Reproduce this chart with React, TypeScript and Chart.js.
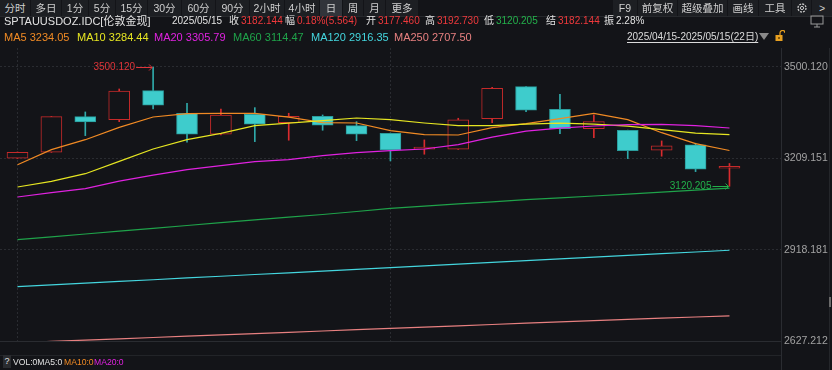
import React, { useEffect, useRef } from "react";
import { Chart, registerables } from "chart.js";
Chart.register(...registerables);

// ---- data ----
const dates = ["04/15","04/16","04/17","04/21","04/22","04/23","04/24","04/25","04/28","04/29","04/30","05/01","05/02","05/05","05/06","05/07","05/08","05/09","05/12","05/13","05/14","05/15"];
const opens = [3209.5,3228.6,3341.9,3332.4,3424.7,3352.7,3285.9,3349.5,3322.8,3343.2,3313.3,3289.1,3238.2,3238.2,3335.6,3437.4,3365.5,3303.7,3298.6,3235.0,3251.8,3177.46];
const closes = [3228.6,3341.9,3325.0,3423.7,3378.2,3285.9,3347.3,3317.7,3343.2,3314.6,3285.9,3235.9,3240.1,3331.4,3432.3,3362.3,3303.7,3326.0,3233.7,3248.7,3174.5,3182.144];
const highs = [3229.5,3342.5,3356.9,3430.1,3500.12,3384.6,3366.4,3370.6,3352.7,3347.3,3326.0,3289.5,3267.8,3336.8,3435.5,3437.8,3413.2,3347.3,3299.0,3264.6,3257.2,3192.73];
const lows = [3208.5,3228.0,3281.5,3326.0,3366.4,3260.4,3284.0,3262.3,3266.8,3298.6,3265.5,3200.9,3222.2,3237.5,3322.8,3357.8,3287.8,3275.1,3208.2,3215.9,3166.8,3120.205];
const ma5 = [3188.9,3236.7,3268.5,3307.7,3340.8,3351.3,3352.3,3352.3,3340.2,3322.7,3321.7,3297.2,3284.4,3283.5,3306.7,3319.5,3335.4,3352.3,3332.2,3290.8,3255.8,3234.05];
const ma10 = [3117.8,3135.7,3160.2,3199.4,3238.9,3268.5,3288.6,3313.1,3321.1,3329.0,3337.6,3332.2,3321.7,3313.1,3313.1,3317.9,3321.1,3317.9,3311.5,3300.4,3289.2,3284.44];
const ma20 = [3086.0,3099.7,3112.4,3136.3,3155.4,3172.9,3185.7,3198.4,3204.8,3217.5,3227.1,3233.5,3238.9,3252.6,3276.5,3295.6,3305.2,3312.2,3316.3,3317.3,3313.1,3305.79];
const ma60 = [2949.9,2959.2,2968.1,2977.3,2986.3,2995.2,3004.1,3013.0,3021.6,3030.2,3039.8,3049.6,3057.0,3064.0,3070.7,3077.4,3083.4,3089.2,3094.9,3101.3,3108.0,3114.47];
const ma120 = [2800.2,2805.8,2811.3,2816.9,2822.4,2828.0,2833.5,2839.0,2844.5,2850.0,2855.4,2860.7,2866.3,2871.9,2877.5,2883.1,2888.7,2894.3,2899.8,2905.3,2910.8,2916.35];
const ma250 = [2621.8,2625.9,2630.0,2634.2,2638.3,2642.5,2646.6,2650.8,2655.0,2659.1,2663.3,2667.4,2671.5,2675.7,2679.8,2683.9,2688.0,2692.1,2696.0,2699.8,2703.7,2707.50];
const yTicks = [2627.212, 2918.181, 3209.151, 3500.12];
const xGridAt = [0, 11];

const maLegend = [
  { t: "MA5 3234.05", c: "#f08a24", x: 4 },
  { t: "MA10 3284.44", c: "#e6e622", x: 77 },
  { t: "MA20 3305.79", c: "#e022e0", x: 154 },
  { t: "MA60 3114.47", c: "#1fa34a", x: 233 },
  { t: "MA120 2916.35", c: "#44d6de", x: 311 },
  { t: "MA250 2707.50", c: "#e88080", x: 394 },
];

const BG = "#131418";
const RED = "#c62a2a";
const RED_W = "#d92b2e";
const CYAN = "#3ecccc";
const CYAN_B = "#2a9c9c";
const GRID = "#2a2c31";
const FONT = '"Liberation Sans", Arial, "Noto Sans CJK SC", sans-serif';

const leftBtns: [string, number, number][] = [
  ["分时", 0, 30], ["多日", 31, 61], ["1分", 62, 88], ["5分", 89, 115], ["15分", 116, 147],
  ["30分", 148, 181], ["60分", 182, 215], ["90分", 216, 249], ["2小时", 250, 284], ["4小时", 285, 319],
  ["日", 320, 342], ["周", 343, 363], ["月", 364, 385], ["更多", 386, 418],
];
const rightBtns: [string, number, number][] = [
  ["F9", 613, 637], ["前复权", 638, 677], ["超级叠加", 678, 727], ["画线", 728, 758], ["工具", 759, 791], ["", 792, 811], [">", 812, 832],
];

const T = (p: { x: number; y: number; c?: string; s?: number; children: React.ReactNode; st?: React.CSSProperties }) => (
  <div style={{ position: "absolute", left: p.x, top: p.y - (p.s || 11) / 2, fontSize: p.s || 11, lineHeight: 1, color: p.c || "#e2e2e2", whiteSpace: "nowrap", fontFamily: FONT, ...(p.st || {}) }}>{p.children}</div>
);

const markers = {
  id: "hlMarkers",
  afterDatasetsDraw(chart: any) {
    const { ctx, scales } = chart;
    let hi = 0, lo = 0;
    highs.forEach((v, i) => { if (v > highs[hi]) hi = i; });
    lows.forEach((v, i) => { if (v < lows[lo]) lo = i; });
    const draw = (i: number, v: number, color: string) => {
      const xc = scales.x.getPixelForValue(i);
      const y = Math.round(scales.y.getPixelForValue(v)) + 0.5;
      ctx.save();
      ctx.strokeStyle = color; ctx.fillStyle = color; ctx.lineWidth = 1;
      ctx.font = `10px ${FONT}`; ctx.textAlign = "right"; ctx.textBaseline = "middle";
      ctx.fillText(v.toFixed(3), xc - 18, y);
      ctx.beginPath(); ctx.moveTo(xc - 17, y); ctx.lineTo(xc - 1, y);
      ctx.moveTo(xc - 4, y - 3); ctx.lineTo(xc - 1, y); ctx.lineTo(xc - 4, y + 3); ctx.stroke();
      ctx.restore();
    };
    draw(hi, highs[hi], "#e0353a");
    draw(lo, lows[lo], "#22b04a");
  },
};

export default function App() {
  const ref = useRef<HTMLCanvasElement>(null);
  useEffect(() => {
    document.body.style.margin = "0";
    const up = opens.map((o, i) => closes[i] >= o);
    const line = (label: string, data: number[], color: string) => ({
      type: "line" as const, label, data: data.map((v, i) => ({ x: i, y: v })),
      borderColor: color, borderWidth: 1.2, pointRadius: 0, tension: 0, order: 0,
    });
    const chart = new Chart(ref.current!, {
      type: "bar",
      data: {
        datasets: [
          line("MA250", ma250, "#e88080"),
          line("MA120", ma120, "#44d6de"),
          line("MA60", ma60, "#1fa34a"),
          line("MA20", ma20, "#e022e0"),
          line("MA10", ma10, "#e6e622"),
          line("MA5", ma5, "#f08a24"),
          {
            type: "bar", label: "body",
            data: dates.map((d, i) => ({ x: i, y: [opens[i], closes[i]] })) as any,
            backgroundColor: up.map((u) => (u ? BG : CYAN)),
            borderColor: up.map((u) => (u ? RED : CYAN_B)),
            borderWidth: 1, borderSkipped: false, barThickness: 21, grouped: false, order: 1, minBarLength: 2,
          } as any,
          {
            type: "bar", label: "wick",
            data: dates.map((d, i) => ({ x: i, y: [lows[i], highs[i]] })) as any,
            backgroundColor: up.map((u) => (u ? RED_W : "#2fa9a9")),
            borderWidth: 0, barThickness: 1, grouped: false, order: 2,
          } as any,
        ],
      },
      options: {
        animation: false, responsive: false, maintainAspectRatio: false, devicePixelRatio: 1,
        layout: { padding: { top: 48, bottom: 29, left: 0, right: 0 } },
        plugins: { legend: { display: false }, tooltip: { enabled: false } },
        scales: {
          x: {
            type: "linear", min: -0.516, max: 22.52, offset: false,
            afterBuildTicks: (s: any) => { s.ticks = xGridAt.map((v) => ({ value: v })); },
            afterFit: (s: any) => { s.height = 0; },
            ticks: { display: false },
            grid: { color: GRID, drawTicks: false, lineWidth: 1, offset: false },
            border: { display: false, dash: [2, 2] },
          },
          y: {
            type: "linear", position: "right", min: 2627.212, max: 3560.6, offset: false,
            afterBuildTicks: (s: any) => { s.ticks = yTicks.map((v) => ({ value: v })); },
            afterFit: (s: any) => { s.width = 51; },
            ticks: { color: "#a3a3a3", font: { size: 10.5, family: FONT }, padding: 3, callback: (v: any) => Number(v).toFixed(3), autoSkip: false },
            grid: { color: GRID, drawTicks: false, lineWidth: 1 },
            border: { display: false, dash: [2, 2] },
          },
        } as any,
      },
      plugins: [markers],
    } as any);
    return () => chart.destroy();
  }, []);

  const btn = (b: [string, number, number], sel: boolean) => (
    <div key={b[0] + b[1]} style={{ position: "absolute", left: b[1], top: 0, width: b[2] - b[1], height: 16, background: sel ? "#31343a" : "#1d1f23", color: "#cfcfcf", fontSize: 10.5, lineHeight: "16px", textAlign: "center", fontFamily: FONT, whiteSpace: "nowrap" }}>
      {b[0] === "" ? (
        <svg width="12" height="12" viewBox="0 0 12 12" style={{ marginTop: 2 }}>
          <circle cx="6" cy="6" r="4" fill="none" stroke="#c8c8c8" strokeWidth="1.3" strokeDasharray="2 1.1" />
          <circle cx="6" cy="6" r="1.6" fill="none" stroke="#c8c8c8" strokeWidth="1" />
        </svg>
      ) : b[0]}
    </div>
  );

  const red = "#f0393c", green = "#23b24b";
  const s2 = 10;
  return (
    <div style={{ position: "fixed", left: 0, top: 0, width: 832, height: 370, background: BG, overflow: "hidden", fontFamily: FONT }}>
      <canvas ref={ref} width={832} height={370} style={{ position: "absolute", left: 0, top: 0, width: 832, height: 370 }} />
      {leftBtns.map((b) => btn(b, b[0] === "日"))}
      {rightBtns.map((b) => btn(b, false))}
      <div style={{ position: "absolute", left: 0, top: 16, width: 832, height: 1, background: "#26282c" }} />
      {/* info row */}
      <T x={4} y={21} s={11}>SPTAUUSDOZ.IDC[伦敦金现]</T>
      <T x={172} y={21} s={s2}>2025/05/15</T>
      <T x={229} y={21} s={s2}>收</T><T x={241} y={21} s={s2} c={red}>3182.144</T>
      <T x={285} y={21} s={s2}>幅</T><T x={297} y={21} s={s2} c={red}>0.18%(5.564)</T>
      <T x={366} y={21} s={s2}>开</T><T x={378} y={21} s={s2} c={red}>3177.460</T>
      <T x={425} y={21} s={s2}>高</T><T x={437} y={21} s={s2} c={red}>3192.730</T>
      <T x={484} y={21} s={s2}>低</T><T x={496} y={21} s={s2} c={green}>3120.205</T>
      <T x={546} y={21} s={s2}>结</T><T x={558} y={21} s={s2} c={red}>3182.144</T>
      <T x={604} y={21} s={s2}>振</T><T x={616} y={21} s={s2}>2.28%</T>
      <svg style={{ position: "absolute", left: 810, top: 15 }} width="14" height="13" viewBox="0 0 14 13">
        <rect x="1" y="1" width="12" height="8" fill="none" stroke="#9a9a9a" strokeWidth="1" />
        <line x1="7" y1="9" x2="7" y2="12" stroke="#9a9a9a" /><line x1="4" y1="12" x2="10" y2="12" stroke="#9a9a9a" />
      </svg>
      {/* MA legend row */}
      {maLegend.map((m) => <T key={m.t} x={m.x} y={37} c={m.c}>{m.t}</T>)}
      <T x={627} y={37} s={10} c="#dcdcdc" st={{ textDecoration: "underline", textUnderlineOffset: 2 }}>2025/04/15-2025/05/15(22日)</T>
      <svg style={{ position: "absolute", left: 759, top: 33 }} width="10" height="8" viewBox="0 0 10 8"><polygon points="0,0 10,0 5,7" fill="#8a8a8a" /></svg>
      <svg style={{ position: "absolute", left: 775, top: 30 }} width="10" height="13" viewBox="0 0 10 13">
        <path d="M5 5 V3 a2.5 2.5 0 0 1 5 0" fill="none" stroke="#e8a020" strokeWidth="1.2" />
        <rect x="0.5" y="5" width="7" height="6" fill="#e8a020" />
        <rect x="3.3" y="7" width="1.4" height="2" fill="#5a3a00" />
      </svg>
      {/* frame lines */}
      <div style={{ position: "absolute", left: 0, top: 341, width: 781, height: 1, background: GRID }} />
      <div style={{ position: "absolute", left: 0, top: 355, width: 781, height: 1, background: "#222428" }} />
      <div style={{ position: "absolute", left: 781, top: 48, width: 1, height: 322, background: GRID }} />
      <div style={{ position: "absolute", left: 829, top: 48, width: 1, height: 322, background: "#24262a" }} />
      <div style={{ position: "absolute", left: 829, top: 297, width: 2, height: 10, background: "#6a6a6a" }} />
      {/* volume row */}
      <div style={{ position: "absolute", left: 3, top: 355, width: 8, height: 13, background: "#2a2c30", color: "#e0e0e0", fontSize: 9, lineHeight: "13px", textAlign: "center", fontFamily: FONT }}>?</div>
      <T x={13} y={362} s={8.6}>VOL:0MA5:0</T>
      <T x={64} y={362} s={8.6} c="#f08a24">MA10:0</T>
      <T x={94} y={362} s={8.6} c="#e022e0">MA20:0</T>
    </div>
  );
}
